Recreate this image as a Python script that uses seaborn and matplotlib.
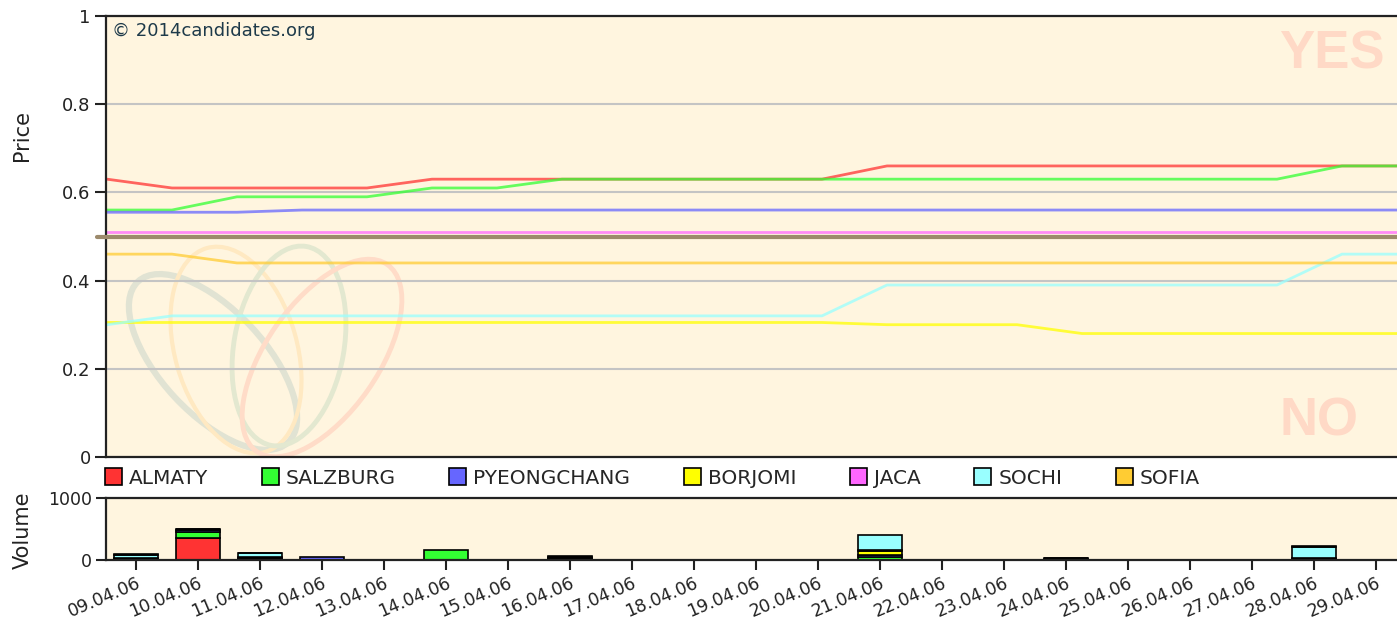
import pandas as pd
import seaborn as sns
import matplotlib.pyplot as plt
from matplotlib.patches import Patch, Ellipse
from matplotlib.transforms import ScaledTranslation

# ---- data ----
dates = ['09.04.06', '10.04.06', '11.04.06', '12.04.06', '13.04.06', '14.04.06', '15.04.06',
         '16.04.06', '17.04.06', '18.04.06', '19.04.06', '20.04.06', '21.04.06', '22.04.06',
         '23.04.06', '24.04.06', '25.04.06', '26.04.06', '27.04.06', '28.04.06', '29.04.06']
cities = ['ALMATY', 'SALZBURG', 'PYEONGCHANG', 'BORJOMI', 'JACA', 'SOCHI', 'SOFIA']
colors = ['#ff3333', '#33ff33', '#6666ff', '#ffff00', '#ff66ff', '#99ffff', '#ffcc33']

price_almaty = [0.63, 0.61, 0.61, 0.61, 0.61, 0.63, 0.63, 0.63, 0.63, 0.63, 0.63, 0.63,
                0.66, 0.66, 0.66, 0.66, 0.66, 0.66, 0.66, 0.66, 0.66]
price_salzburg = [0.56, 0.56, 0.59, 0.59, 0.59, 0.61, 0.61, 0.63, 0.63, 0.63, 0.63, 0.63,
                  0.63, 0.63, 0.63, 0.63, 0.63, 0.63, 0.63, 0.66, 0.66]
price_pyeongchang = [0.555, 0.555, 0.555, 0.56, 0.56, 0.56, 0.56, 0.56, 0.56, 0.56, 0.56,
                     0.56, 0.56, 0.56, 0.56, 0.56, 0.56, 0.56, 0.56, 0.56, 0.56]
price_borjomi = [0.305, 0.305, 0.305, 0.305, 0.305, 0.305, 0.305, 0.305, 0.305, 0.305, 0.305,
                 0.305, 0.30, 0.30, 0.30, 0.28, 0.28, 0.28, 0.28, 0.28, 0.28]
price_jaca = [0.51] * 21
price_sochi = [0.30, 0.32, 0.32, 0.32, 0.32, 0.32, 0.32, 0.32, 0.32, 0.32, 0.32, 0.32,
               0.39, 0.39, 0.39, 0.39, 0.39, 0.39, 0.39, 0.46, 0.46]
price_sofia = [0.46, 0.46, 0.44, 0.44, 0.44, 0.44, 0.44, 0.44, 0.44, 0.44, 0.44, 0.44,
               0.44, 0.44, 0.44, 0.44, 0.44, 0.44, 0.44, 0.44, 0.44]

vol_almaty = [10, 360, 15, 0, 0, 0, 0, 15, 0, 0, 0, 0, 0, 0, 0, 10, 0, 0, 0, 15, 0]
vol_salzburg = [10, 95, 15, 0, 0, 160, 0, 15, 0, 0, 0, 0, 50, 0, 0, 10, 0, 0, 0, 15, 0]
vol_pyeongchang = [15, 20, 25, 50, 0, 0, 0, 15, 0, 0, 0, 0, 25, 0, 0, 0, 0, 0, 0, 0, 0]
vol_borjomi = [0, 0, 0, 0, 0, 0, 0, 10, 0, 0, 0, 0, 65, 0, 0, 10, 0, 0, 0, 0, 0]
vol_jaca = [0, 0, 0, 0, 0, 0, 0, 0, 0, 0, 0, 0, 20, 0, 0, 0, 0, 0, 0, 0, 0]
vol_sochi = [45, 15, 50, 0, 0, 0, 0, 10, 0, 0, 0, 0, 240, 0, 0, 5, 0, 0, 0, 180, 0]
vol_sofia = [10, 15, 12, 0, 0, 0, 0, 0, 0, 0, 0, 0, 0, 0, 0, 0, 0, 0, 0, 15, 0]

prices = [price_almaty, price_salzburg, price_pyeongchang, price_borjomi,
          price_jaca, price_sochi, price_sofia]
volumes = [vol_almaty, vol_salzburg, vol_pyeongchang, vol_borjomi,
           vol_jaca, vol_sochi, vol_sofia]

price_df = pd.DataFrame([(city, i, p) for city, ser in zip(cities, prices)
                         for i, p in enumerate(ser)], columns=['city', 'day', 'price'])
vol_df = pd.DataFrame([(city, i, v) for city, ser in zip(cities, volumes)
                       for i, v in enumerate(ser) if v > 0], columns=['city', 'day', 'volume'])
palette = dict(zip(cities, colors))

sns.set_style('white')
plt.rcParams['font.family'] = ['DejaVu Sans']

W, H = 1397, 625
bg = '#fff5df'
dark = '#222222'
fig = plt.figure(figsize=(W / 100, H / 100), dpi=100)

# ---- price panel ----
ax = fig.add_axes([106 / W, 1 - 457 / H, 1291 / W, 441 / H])
ax.set_facecolor(bg)
ax.set_axisbelow(True)

# faint logo in the background
logo = [((213, 362), 220, 104, -47, '#e1e3d3', 4.5),
        ((236, 350), 212, 122, -74, '#ffe9c2', 3),
        ((289, 346), 202, 110, 80, '#e3e8d0', 3.5),
        ((322, 358), 228, 112, 55, '#ffdcc8', 3.5)]
for (cx, cy), w, h, ang, col, lw in logo:
    ax.add_patch(Ellipse((cx / 100, (H - cy) / 100), w / 100, h / 100, angle=ang,
                         transform=fig.dpi_scale_trans, fill=False, edgecolor=col,
                         lw=lw, zorder=0.4))

ax.text(0.9497, 0.9116, 'YES', transform=ax.transAxes, ha='center', va='center',
        fontsize=38, fontweight='bold', color='#ffd9c6', family='Liberation Sans', zorder=0.3)
ax.text(0.9396, 0.0794, 'NO', transform=ax.transAxes, ha='center', va='center',
        fontsize=38, fontweight='bold', color='#ffd9c6', family='Liberation Sans', zorder=0.3)

sns.lineplot(data=price_df, x='day', y='price', hue='city', hue_order=cities,
             palette=palette, linewidth=2, alpha=0.75, legend=False, ax=ax)
ax.axhline(0.5, xmin=-0.007, xmax=1, color='#9c8a6c', lw=3, clip_on=False, zorder=3)

ax.set_xlim(-0.015, 19.846)
ax.set_ylim(0, 1)
ax.set_xticks([])
ax.set_yticks([0, 0.2, 0.4, 0.6, 0.8, 1])
ax.set_yticklabels(['0', '0.2', '0.4', '0.6', '0.8', '1'])
ax.yaxis.grid(True, color='#c4c4c4', lw=1.5)
ax.xaxis.grid(False)
ax.set_xlabel('')
ax.set_ylabel('Price', fontsize=15, color=dark)
ax.yaxis.set_label_coords(-0.057, 0.728)
ax.tick_params(axis='y', direction='out', length=8, width=1.5, color=dark,
               labelsize=13, labelcolor=dark, pad=3, left=True)
for side in ['top', 'left', 'bottom']:
    ax.spines[side].set_color(dark)
    ax.spines[side].set_linewidth(1.6)
ax.spines['right'].set_visible(False)
ax.text(0.005, 0.966, '\u00a9 2014candidates.org', transform=ax.transAxes,
        ha='left', va='center', fontsize=13, color='#1e3a4a')

# ---- volume panel ----
axv = fig.add_axes([106 / W, 1 - 560 / H, 1291 / W, 62.3 / H])
axv.set_facecolor(bg)
sns.histplot(data=vol_df, x='day', weights='volume', hue='city', hue_order=cities[::-1],
             palette=palette, multiple='stack', discrete=True, shrink=0.71,
             edgecolor='black', linewidth=1.2, alpha=1, legend=False, ax=axv)
for p in axv.patches:
    if p.get_height() == 0:
        p.set_visible(False)
axv.set_xlim(-0.484, 20.34)
axv.set_ylim(0, 1000)
axv.set_yticks([0, 1000])
axv.set_yticklabels(['0', '1000'])
axv.set_xticks(range(len(dates)))
axv.set_xticklabels(dates, rotation=23, ha='right', va='top', rotation_mode='anchor')
shift = ScaledTranslation(5 / 100, 0, fig.dpi_scale_trans)
for lab in axv.get_xticklabels():
    lab.set_transform(lab.get_transform() + shift)
axv.set_xlabel('')
axv.set_ylabel('Volume', fontsize=15, color=dark)
axv.yaxis.set_label_coords(-0.057, 0.47)
axv.tick_params(axis='both', direction='out', length=7, width=1.5, color=dark,
                labelsize=12.5, labelcolor=dark, pad=3, left=True, bottom=True)
for side in ['top', 'left', 'bottom']:
    axv.spines[side].set_color(dark)
    axv.spines[side].set_linewidth(1.6)
axv.spines['right'].set_visible(False)

# ---- legend between the panels ----
handles = [Patch(facecolor=c, edgecolor='black', lw=1.2) for c in colors]
fig.legend(handles, cities, loc='center left', bbox_to_anchor=(105 / W, 1 - 478 / H),
           ncol=7, frameon=False, fontsize=14.5, handlelength=0.85, handleheight=0.85,
           handletextpad=0.35, columnspacing=2.65, borderpad=0, borderaxespad=0)

fig.savefig('out.png', dpi=100, facecolor='white')
